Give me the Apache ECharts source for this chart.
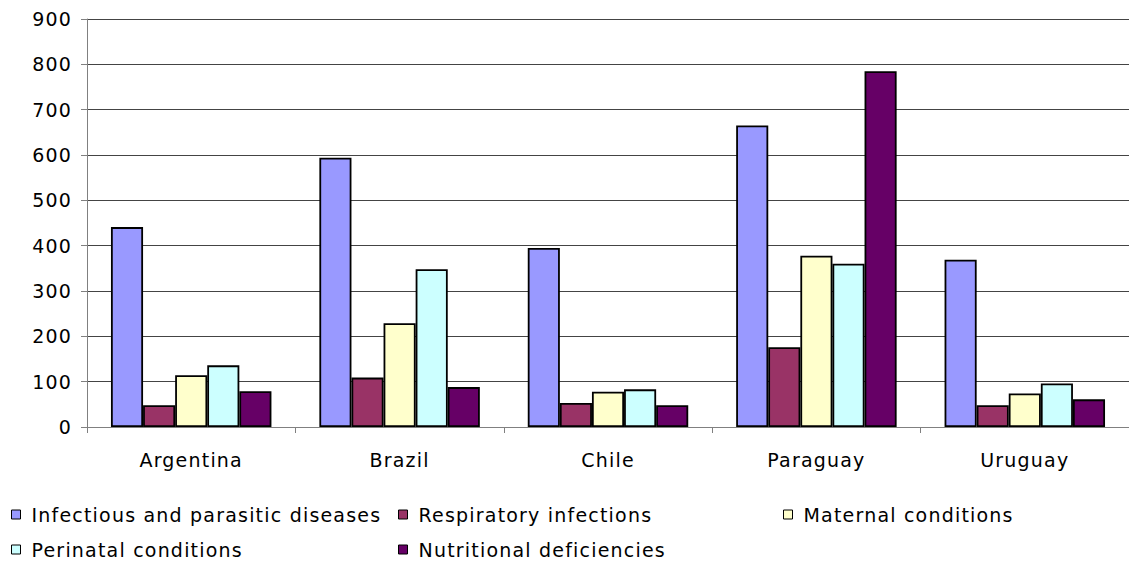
<!DOCTYPE html>
<html>
<head>
<meta charset="utf-8">
<script src="https://cdn.jsdelivr.net/npm/echarts@6/dist/echarts.min.js"></script>
<style>
html,body{margin:0;padding:0;background:#fff;}
#c{width:1129px;height:563px;}
#c svg text{letter-spacing:1.2px;}
</style>
</head>
<body>
<div id="c"></div>
<script>
const categories = ['Argentina', 'Brazil', 'Chile', 'Paraguay', 'Uruguay'];
const seriesNames = ['Infectious and parasitic diseases', 'Respiratory infections', 'Maternal conditions', 'Perinatal conditions', 'Nutritional deficiencies'];
const infectious = [441, 594, 395, 665, 369];
const respiratory = [48, 109, 53, 176, 48];
const maternal = [114, 229, 78, 378, 74];
const perinatal = [136, 348, 83, 360, 96];
const nutritional = [79, 88, 48, 785, 61];
const yTicks = [0, 100, 200, 300, 400, 500, 600, 700, 800, 900];

const colors = ['#9999FF', '#993366', '#FFFFCC', '#CCFFFF', '#660066'];
const values = [infectious, respiratory, maternal, perinatal, nutritional];
const FONT = '"DejaVu Sans", Verdana, sans-serif';

const legendPos = [
  {left: 11, top: 505},
  {left: 398, top: 505},
  {left: 783, top: 505},
  {left: 11, top: 540},
  {left: 398, top: 540}
];

const chart = echarts.init(document.getElementById('c'), null, {renderer: 'svg'});
chart.setOption({
  animation: false,
  backgroundColor: '#fff',
  textStyle: {fontFamily: FONT},
  grid: {left: 87, right: -8, top: 19, bottom: 136, containLabel: false},
  legend: seriesNames.map((n, i) => ({
    data: [n],
    left: legendPos[i].left,
    top: legendPos[i].top,
    padding: 0,
    icon: 'rect',
    itemWidth: 9,
    itemHeight: 9,
    itemStyle: {borderColor: '#000', borderWidth: 1},
    textStyle: {fontFamily: FONT, fontSize: 19, color: '#000', padding: [0, 0, 0, 6]},
    selectedMode: false
  })),
  xAxis: {
    type: 'category',
    data: categories,
    axisLine: {lineStyle: {color: '#808080', width: 1}},
    axisTick: {show: true, length: 6, alignWithLabel: false, lineStyle: {color: '#808080'}},
    axisLabel: {fontFamily: FONT, fontSize: 19, color: '#000', margin: 23},
    splitLine: {show: false}
  },
  yAxis: {
    type: 'value',
    min: yTicks[0],
    max: yTicks[yTicks.length - 1],
    interval: 100,
    axisLine: {show: true, lineStyle: {color: '#808080', width: 1}},
    axisTick: {show: true, length: 6, lineStyle: {color: '#808080'}},
    axisLabel: {fontFamily: FONT, fontSize: 19, color: '#000', margin: 15},
    splitLine: {show: true, lineStyle: {color: '#444', width: 1}}
  },
  series: seriesNames.map((n, i) => ({
    name: n,
    type: 'bar',
    data: values[i],
    barGap: '0%',
    barCategoryGap: '23%',
    itemStyle: {color: colors[i], borderColor: '#000', borderWidth: 1.8},
    emphasis: {disabled: true}
  }))
});
</script>
</body>
</html>
